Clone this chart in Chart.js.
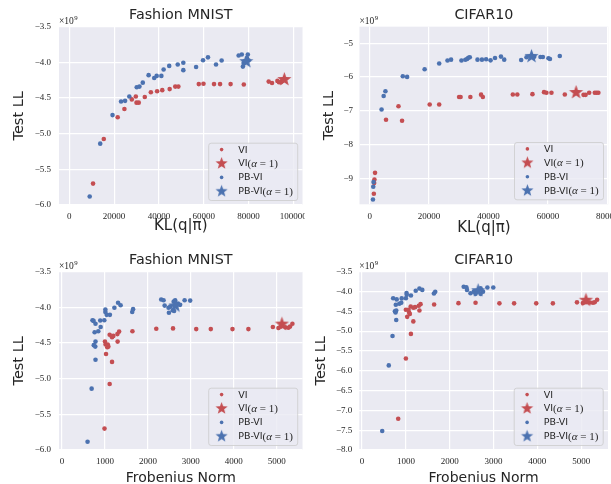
<!DOCTYPE html>
<html><head><meta charset="utf-8">
<script src="https://cdn.jsdelivr.net/npm/chart.js@4.4.1/dist/chart.umd.min.js"></script>
<style>
html,body{margin:0;padding:0;background:#fff;width:611px;height:484px;overflow:hidden;}
.cell{position:absolute;}
canvas{display:block;}
</style></head><body>
<div class="cell" style="left:0;top:0;"><canvas id="c1" width="305" height="242" style="width:305px;height:242px"></canvas></div>
<div class="cell" style="left:305px;top:0;"><canvas id="c2" width="306" height="242" style="width:306px;height:242px"></canvas></div>
<div class="cell" style="left:0;top:242px;"><canvas id="c3" width="305" height="242" style="width:305px;height:242px"></canvas></div>
<div class="cell" style="left:305px;top:242px;"><canvas id="c4" width="306" height="242" style="width:306px;height:242px"></canvas></div>
<script>
// ---------------- DATA ----------------
const seriesLabels = ['VI', 'VI(α = 1)', 'PB-VI', 'PB-VI(α = 1)'];
const panelTitles = ['Fashion MNIST', 'CIFAR10', 'Fashion MNIST', 'CIFAR10'];
const xAxisTitles = ['KL(q|π)', 'KL(q|π)', 'Frobenius Norm', 'Frobenius Norm'];
const yAxisTitle = 'Test LL';
const offsetText = ['×10', '9'];

// Panel 1: Fashion MNIST, KL
const fmKlViX = [10600,15400,21600,24600,27900,29700,30000,31000,33700,36400,39200,41500,44800,47300,48700,57800,59900,64600,67300,72000,77900,89000,90500,92900,93600,94400,95000];
const fmKlViY = [-5.70,-5.075,-4.77,-4.655,-4.52,-4.48,-4.565,-4.565,-4.485,-4.42,-4.405,-4.39,-4.375,-4.34,-4.34,-4.305,-4.30,-4.305,-4.305,-4.305,-4.31,-4.27,-4.29,-4.26,-4.28,-4.28,-4.26];
const fmKlViStar = [96000, -4.24];
const fmKlPbX = [9100,13800,19300,23100,24900,26800,30100,31300,32800,35400,37900,39000,41100,42100,44600,48400,50900,50900,56600,59700,61900,65500,68000,75600,77000,79700,77500,77800,78500,79300,80000];
const fmKlPbY = [-5.88,-5.14,-4.74,-4.55,-4.54,-4.48,-4.35,-4.34,-4.285,-4.18,-4.22,-4.19,-4.19,-4.10,-4.05,-4.03,-4.005,-4.11,-4.065,-3.97,-3.93,-4.03,-3.975,-3.905,-3.89,-3.89,-4.06,-4.01,-3.98,-3.94,-3.97];
const fmKlPbStar = [79000, -3.99];

// Panel 2: CIFAR10, KL
const cfKlViX = [1800,1600,1500,1400,5500,9700,10900,20200,23400,30100,30600,33900,37500,38100,48200,49700,54800,58700,59500,61200,65700,72000,72700,73900,75800,76400,77000];
const cfKlViY = [-8.83,-9.03,-9.13,-9.45,-7.26,-6.86,-7.29,-6.81,-6.81,-6.59,-6.59,-6.59,-6.52,-6.59,-6.515,-6.515,-6.505,-6.445,-6.465,-6.465,-6.515,-6.525,-6.525,-6.465,-6.465,-6.465,-6.465];
const cfKlViStar = [69500, -6.455];
const cfKlPbX = [1100,1200,1300,4000,4700,5300,11150,12600,18500,23400,26200,27400,30900,32200,32800,33200,33700,36300,37800,39200,40700,42200,44200,45300,51000,52800,55400,57500,58300,60200,60700,64000];
const cfKlPbY = [-9.62,-9.24,-9.10,-6.96,-6.56,-6.42,-5.975,-5.995,-5.77,-5.60,-5.51,-5.485,-5.51,-5.49,-5.465,-5.43,-5.415,-5.485,-5.485,-5.475,-5.505,-5.435,-5.395,-5.485,-5.495,-5.415,-5.40,-5.405,-5.405,-5.445,-5.465,-5.375];
const cfKlPbStar = [54500, -5.39];

// Panel 3: Fashion MNIST, Frobenius norm
const fmFrViX = [990,1110,1165,1025,1015,1055,1080,1065,1000,1295,1110,1165,1195,1290,1330,1640,2195,2585,3125,3465,3970,4340,4910,5040,5100,5200,5270,5310,5365];
const fmFrViY = [-5.70,-5.075,-4.765,-4.655,-4.52,-4.56,-4.55,-4.52,-4.48,-4.48,-4.385,-4.42,-4.40,-4.375,-4.34,-4.335,-4.30,-4.295,-4.305,-4.305,-4.305,-4.305,-4.275,-4.29,-4.27,-4.28,-4.285,-4.27,-4.23];
const fmFrViStar = [5120, -4.235];
const fmFrPbX = [595,690,780,740,775,780,760,845,780,710,735,900,890,985,1010,1010,1040,1115,1220,1305,1365,1635,1655,2310,2365,2390,2480,2490,2520,2580,2600,2610,2635,2660,2700,2750,2855,2985];
const fmFrPbY = [-5.885,-5.14,-4.735,-4.53,-4.55,-4.48,-4.35,-4.335,-4.23,-4.18,-4.19,-4.275,-4.185,-4.18,-4.03,-4.065,-4.105,-4.105,-4.005,-3.935,-3.97,-4.065,-4.025,-3.89,-3.90,-3.975,-4.005,-4.075,-3.99,-4.04,-3.92,-4.05,-3.90,-3.965,-3.945,-3.965,-3.90,-3.905];
const fmFrPbStar = [2640, -3.98];

// Panel 4: CIFAR10, Frobenius norm
const cfFrViX = [825,1000,1115,1170,1030,1000,1075,1090,1060,1110,1170,1210,1295,1335,1310,1645,2200,2590,3135,3470,3975,4355,4905,5040,5110,5200,5270,5310,5365];
const cfFrViY = [-7.21,-5.69,-5.07,-4.755,-4.64,-4.46,-4.53,-4.57,-4.46,-4.38,-4.41,-4.395,-4.36,-4.32,-4.48,-4.33,-4.295,-4.285,-4.30,-4.30,-4.30,-4.30,-4.275,-4.29,-4.27,-4.28,-4.285,-4.27,-4.21];
const cfFrViStar = [5110, -4.22];
const cfFrPbX = [460,610,695,780,765,780,750,770,850,895,710,790,905,1000,1015,1020,1115,1225,1310,1375,1640,1670,2320,2380,2395,2475,2550,2590,2630,2705,2705,2760,2860,2995];
const cfFrPbY = [-7.52,-5.865,-5.125,-4.72,-4.53,-4.48,-4.50,-4.335,-4.31,-4.285,-4.17,-4.20,-4.175,-4.17,-4.04,-4.085,-4.10,-3.98,-3.925,-3.96,-4.05,-4.01,-3.88,-3.895,-3.96,-4.045,-4.005,-4.06,-3.98,-3.92,-4.06,-4.005,-3.90,-3.90];
const cfFrPbStar = [2650, -3.98];

// Tick values and labels
const klFmXTicks = [0,20000,40000,60000,80000,100000];
const klFmXLabels = ['0','20000','40000','60000','80000','100000'];
const klCfXTicks = [0,20000,40000,60000,80000];
const klCfXLabels = ['0','20000','40000','60000','80000'];
const frXTicks = [0,1000,2000,3000,4000,5000];
const frXLabels = ['0','1000','2000','3000','4000','5000'];
const fmYTicks = [-3.5,-4.0,-4.5,-5.0,-5.5,-6.0];
const fmYLabels = ['−3.5','−4.0','−4.5','−5.0','−5.5','−6.0'];
const cfKlYTicks = [-5,-6,-7,-8,-9];
const cfKlYLabels = ['−5','−6','−7','−8','−9'];
const cfFrYTicks = [-3.5,-4.0,-4.5,-5.0,-5.5,-6.0,-6.5,-7.0,-7.5,-8.0];
const cfFrYLabels = ['−3.5','−4.0','−4.5','−5.0','−5.5','−6.0','−6.5','−7.0','−7.5','−8.0'];

// ---------------- STYLE ----------------
const RED = '#c44e52', BLUE = '#4c72b0', TXT = '#262626', BG = '#eaeaf2';
const SANS = 'DejaVu Sans', SERIF = 'Liberation Serif';

function makeStar(color, R) {
  const s = Math.ceil(R * 2 + 2);
  const c = document.createElement('canvas'); c.width = s; c.height = s;
  const g = c.getContext('2d');
  const cx = s / 2, cy = s / 2, r = R * 0.42;
  g.beginPath();
  for (let i = 0; i < 10; i++) {
    const a = -Math.PI / 2 + i * Math.PI / 5, rr = (i % 2) ? r : R;
    g.lineTo(cx + rr * Math.cos(a), cy + rr * Math.sin(a));
  }
  g.closePath(); g.fillStyle = color; g.fill();
  return c;
}
const redStar = makeStar(RED, 7.4), blueStar = makeStar(BLUE, 7.4);
const redStarL = makeStar(RED, 6.4), blueStarL = makeStar(BLUE, 6.4);

const zip = (xs, ys) => xs.map((x, i) => ({ x, y: ys[i] }));

const bgPlugin = {
  id: 'bgp',
  beforeDraw(chart) {
    const { ctx, chartArea: a } = chart;
    ctx.save();
    ctx.fillStyle = '#fff'; ctx.fillRect(0, 0, chart.width, chart.height);
    ctx.fillStyle = BG; ctx.fillRect(a.left, a.top, a.right - a.left, a.bottom - a.top);
    ctx.restore();
  }
};

function drawRuns(ctx, label, x, y) {
  const k = label.indexOf('(');
  const runs = [];
  if (k < 0) runs.push([label, `9.5px "${SANS}"`]);
  else {
    runs.push([label.slice(0, k), `9.5px "${SANS}"`]);
    for (const ch of label.slice(k)) runs.push([ch, ch === 'α' ? `italic 11px "${SERIF}"` : `11px "${SERIF}"`]);
  }
  let cx = x;
  for (const [t, f] of runs) { ctx.font = f; ctx.fillText(t, cx, y); cx += ctx.measureText(t).width; }
}

const overlayPlugin = {
  id: 'overlay',
  afterDraw(chart) {
    const { ctx, chartArea: a } = chart;
    ctx.save();
    // offset text
    ctx.fillStyle = TXT; ctx.textBaseline = 'alphabetic'; ctx.textAlign = 'left';
    ctx.font = `9.5px "${SERIF}"`;
    ctx.fillText(offsetText[0], a.left, a.top - 2.5);
    const w = ctx.measureText(offsetText[0]).width;
    ctx.font = `6.8px "${SERIF}"`;
    ctx.fillText(offsetText[1], a.left + w + 0.5, a.top - 6.3);
    // legend
    const bw = 89, bh = 57.3;
    const bx = a.right - 5.3 - bw, by = a.bottom - 5 - bh;
    ctx.beginPath();
    if (ctx.roundRect) ctx.roundRect(bx + 0.5, by + 0.5, bw, bh, 2.5); else ctx.rect(bx + 0.5, by + 0.5, bw, bh);
    ctx.fillStyle = 'rgba(234,234,242,0.8)'; ctx.fill();
    ctx.strokeStyle = 'rgba(204,204,204,0.8)'; ctx.lineWidth = 1; ctx.stroke();
    const ds = chart.data.datasets;
    ds.forEach((d, i) => {
      const ry = by + 6.9 + i * 13.9;
      const mx = bx + 13.4;
      const st = d.legendMarker;
      if (st) ctx.drawImage(st, mx - st.width / 2, ry - st.height / 2);
      else { ctx.beginPath(); ctx.arc(mx, ry, 1.8, 0, Math.PI * 2); ctx.fillStyle = d.backgroundColor; ctx.fill(); }
      ctx.fillStyle = TXT; ctx.textBaseline = 'middle';
      drawRuns(ctx, d.label, bx + 30, ry + 0.5);
    });
    ctx.restore();
  }
};

function makeChart(id, c) {
  const tickFont = { family: SERIF, size: 9 };
  return new Chart(document.getElementById(id), {
    type: 'scatter',
    data: {
      datasets: [
        { label: seriesLabels[0], data: zip(c.viX, c.viY), pointStyle: 'circle', pointRadius: 2.3, backgroundColor: RED, borderWidth: 0, order: 3 },
        { label: seriesLabels[1], data: zip([c.viStar[0]], [c.viStar[1]]), pointStyle: redStar, legendMarker: redStarL, backgroundColor: RED, order: 1 },
        { label: seriesLabels[2], data: zip(c.pbX, c.pbY), pointStyle: 'circle', pointRadius: 2.3, backgroundColor: BLUE, borderWidth: 0, order: 2 },
        { label: seriesLabels[3], data: zip([c.pbStar[0]], [c.pbStar[1]]), pointStyle: blueStar, legendMarker: blueStarL, backgroundColor: BLUE, order: 0 }
      ]
    },
    options: {
      responsive: false, animation: false, devicePixelRatio: 1, events: [],
      layout: { padding: { left: 0, right: c.padR, top: 0, bottom: 0 }, autoPadding: false },
      plugins: {
        legend: { display: false }, tooltip: { enabled: false },
        title: { display: true, text: c.title, fullSize: false, color: TXT,
          font: { family: SANS, size: 14.3, weight: 'normal', lineHeight: 1.2 },
          padding: { top: c.tT, bottom: c.tB } }
      },
      scales: {
        x: {
          type: 'linear', min: c.xMin, max: c.xMax,
          afterBuildTicks: s => { s.ticks = c.xT.map(v => ({ value: v })); },
          ticks: { callback: (v, i) => c.xL[i], font: tickFont, color: TXT, padding: c.xTickPad, maxRotation: 0, autoSkip: false },
          grid: { color: '#ffffff', lineWidth: 1.2, drawTicks: false },
          border: { display: false },
          title: { display: true, text: c.xTitle, color: TXT, font: { family: SANS, size: c.xTitleSize, weight: 'normal', lineHeight: 1.2 }, padding: { top: 0, bottom: c.xTitlePad } },
          afterFit: s => { s.height = c.xH; s.paddingLeft = 0; s.paddingRight = 0; }
        },
        y: {
          type: 'linear', min: c.yMin, max: c.yMax,
          afterBuildTicks: s => { s.ticks = c.yT.map(v => ({ value: v })); },
          ticks: { callback: (v, i) => c.yL[i], font: tickFont, color: TXT, padding: c.yTickPad, autoSkip: false },
          grid: { color: '#ffffff', lineWidth: 1.2, drawTicks: false },
          border: { display: false },
          title: { display: true, text: yAxisTitle, color: TXT, font: { family: SANS, size: 14.5, weight: 'normal', lineHeight: 1.2 }, padding: { top: c.yTitlePad, bottom: 0 } },
          afterFit: s => { s.width = c.yW; s.paddingTop = 0; s.paddingBottom = 0; }
        }
      }
    },
    plugins: [bgPlugin, overlayPlugin]
  });
}

makeChart('c1', { title: panelTitles[0], xTitle: xAxisTitles[0], xTitleSize: 15,
  viX: fmKlViX, viY: fmKlViY, viStar: fmKlViStar, pbX: fmKlPbX, pbY: fmKlPbY, pbStar: fmKlPbStar,
  xMin: -4600, xMax: 104100, yMin: -6.0, yMax: -3.5, xT: klFmXTicks, xL: klFmXLabels, yT: fmYTicks, yL: fmYLabels,
  padR: 2.5, yW: 59, xH: 37, tT: 7.2, tB: 2.3, xTitlePad: 6.4, yTitlePad: 10.6, xTickPad: 6.5, yTickPad: 8 });

makeChart('c2', { title: panelTitles[1], xTitle: xAxisTitles[1], xTitleSize: 15,
  viX: cfKlViX, viY: cfKlViY, viStar: cfKlViStar, pbX: cfKlPbX, pbY: cfKlPbY, pbStar: cfKlPbStar,
  xMin: -3430, xMax: 80340, yMin: -9.76, yMax: -4.51, xT: klCfXTicks, xL: klCfXLabels, yT: cfKlYTicks, yL: cfKlYLabels,
  padR: 2.7, yW: 54.5, xH: 37.7, tT: 7.2, tB: 2.3, xTitlePad: 4.8, yTitlePad: 15.6, xTickPad: 6.5, yTickPad: 6.5 });

makeChart('c3', { title: panelTitles[2], xTitle: xAxisTitles[2], xTitleSize: 14,
  viX: fmFrViX, viY: fmFrViY, viStar: fmFrViStar, pbX: fmFrPbX, pbY: fmFrPbY, pbStar: fmFrPbStar,
  xMin: -70, xMax: 5600, yMin: -6.0, yMax: -3.5, xT: frXTicks, xL: frXLabels, yT: fmYTicks, yL: fmYLabels,
  padR: 2.5, yW: 59, xH: 34, tT: 10.2, tB: 2.34, xTitlePad: -2.9, yTitlePad: 10.6, xTickPad: 6.5, yTickPad: 8 });

makeChart('c4', { title: panelTitles[3], xTitle: xAxisTitles[3], xTitleSize: 14,
  viX: cfFrViX, viY: cfFrViY, viStar: cfFrViStar, pbX: cfFrPbX, pbY: cfFrPbY, pbStar: cfFrPbStar,
  xMin: -63, xMax: 5613, yMin: -8.0, yMax: -3.5, xT: frXTicks, xL: frXLabels, yT: cfFrYTicks, yL: cfFrYLabels,
  padR: 3, yW: 54.3, xH: 34, tT: 9.4, tB: 3.1, xTitlePad: -2.9, yTitlePad: 7.6, xTickPad: 6.5, yTickPad: 7 });
</script>
</body></html>
